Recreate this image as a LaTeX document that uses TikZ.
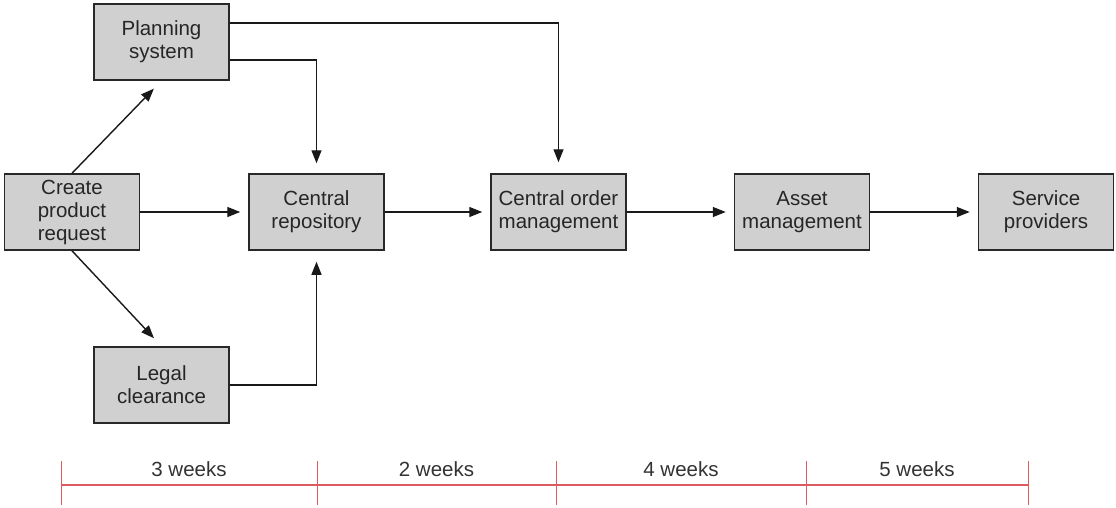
\documentclass[tikz,border=0pt]{standalone}
\usepackage{fontspec}
\setmainfont{Liberation Sans}
\usetikzlibrary{arrows.meta}
\definecolor{boxfill}{RGB}{208,208,208}
\definecolor{boxline}{RGB}{40,40,40}
\definecolor{scale}{RGB}{222,90,96}
\begin{document}
\begin{tikzpicture}[x=1pt,y=-1pt,
  stagebox/.style={draw=boxline,line width=1.5pt,fill=boxfill,
    minimum width=135pt,minimum height=76pt,inner sep=0pt,align=center,
    font=\fontsize{20.5}{23}\selectfont,text=black!85},
  arr/.style={draw=black!90,line width=1.4pt,
    -{Triangle[length=13pt,width=10pt]},shorten >=8pt},
  weeks/.style={font=\fontsize{20.5}{23}\selectfont,text=black!80},
  tl/.style={draw=scale,line width=1.2pt}]
\useasboundingbox (0,0) rectangle (1116,507);

% process stages
\node[stagebox] (plan)    at (161.5,42)  {Planning\\system};
\node[stagebox] (create)  at (72,212)    {Create\\product\\request};
\node[stagebox] (repo)    at (316.5,212) {Central\\repository};
\node[stagebox] (legal)   at (161.5,385) {Legal\\clearance};
\node[stagebox] (order)   at (558.5,212) {Central order\\management};
\node[stagebox] (asset)   at (802,212)   {Asset\\management};
\node[stagebox] (service) at (1046,212)  {Service\\providers};

% flow between stages
\draw[arr,shorten >=11pt] (create.north) -- (plan.south);
\draw[arr,shorten >=11pt] (create.south) -- (legal.north);
\draw[arr] (create) -- (repo);
\draw[arr,shorten >=11pt] ([yshift=19pt]plan.east) -| (order.north);
\draw[arr,shorten >=10pt] ([yshift=-18pt]plan.east) -| (repo.north);
\draw[arr,shorten >=11pt] (legal.east) -| (repo.south);
\draw[arr] (repo) -- (order);
\draw[arr] (order) -- (asset);
\draw[arr] (asset) -- (service);

% time scale
\draw[tl] (61,485) -- (1028,485);
\foreach \x in {61,317,556,806,1028}
  \draw[tl,line width=1pt] (\x,461) -- (\x,505);
\node[weeks] (w3) at (189,469)   {3 weeks};
\node[weeks] (w2) at (436.5,469) {2 weeks};
\node[weeks] (w4) at (681,469)   {4 weeks};
\node[weeks] (w5) at (917,469)   {5 weeks};
\end{tikzpicture}
\end{document}
